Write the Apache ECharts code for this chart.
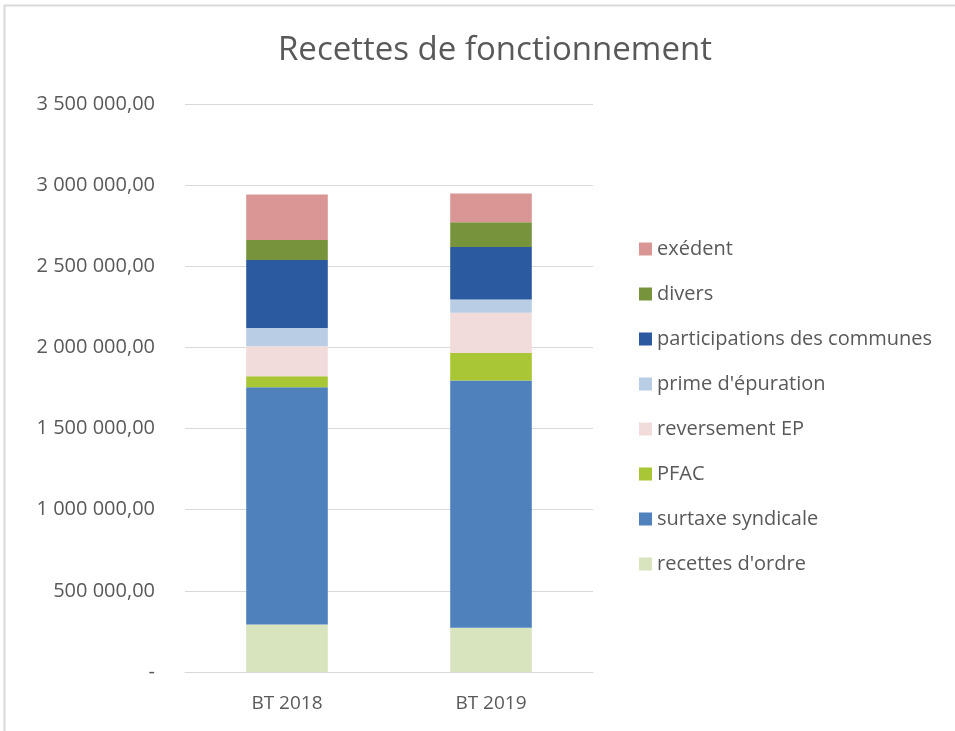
<!DOCTYPE html>
<html>
<head>
<meta charset="utf-8">
<script src="https://cdn.jsdelivr.net/npm/echarts@6/dist/echarts.min.js"></script>
<style>
html, body { margin: 0; padding: 0; background: #fff; }
#main { width: 955px; height: 731px; }
</style>
</head>
<body>
<div id="main"></div>
<script>
// données
var categories = ['BT 2018', 'BT 2019'];
var seriesNames = ['recettes d\'ordre', 'surtaxe syndicale', 'PFAC', 'reversement EP',
    'prime d\'épuration', 'participations des communes', 'divers', 'exédent'];
var seriesColors = ['#D7E4BD', '#4F81BD', '#A9C634', '#F2DCDB',
    '#B9CDE5', '#2B5AA0', '#77933C', '#D99694'];
var recettesOrdre = [292000, 273000];
var surtaxe = [1463000, 1523000];
var pfac = [68000, 169000];
var reversementEP = [185000, 249000];
var primeEpuration = [111000, 82000];
var participations = [420000, 323000];
var divers = [123000, 153000];
var excedent = [281000, 177000];
var seriesValues = [recettesOrdre, surtaxe, pfac, reversementEP, primeEpuration, participations, divers, excedent];

var font = 'Open Sans';

function fmt(v) {
    if (v === 0) return '-';
    var s = String(Math.round(v));
    s = s.replace(/\B(?=(\d{3})+(?!\d))/g, ' ');
    return s + ',00';
}

var myChart = echarts.init(document.getElementById('main'));

var series = [];
for (var i = 0; i < seriesNames.length; i++) {
    series.push({
        name: seriesNames[i],
        type: 'bar',
        stack: 'total',
        barWidth: '40%',
        itemStyle: { color: seriesColors[i] },
        data: seriesValues[i]
    });
}

var option = {
    backgroundColor: '#fff',
    animation: false,
    title: {
        text: 'Recettes de fonctionnement',
        left: 273,
        top: 29,
        textStyle: { color: '#595959', fontSize: 33, fontWeight: 'normal', fontFamily: font }
    },
    graphic: [{
        type: 'rect',
        shape: { x: 4.5, y: 5.5, width: 1000, height: 1000 },
        style: { fill: 'none', stroke: '#d9d9d9', lineWidth: 2 }
    }],
    legend: {
        orient: 'vertical',
        left: 634,
        top: 234,
        itemWidth: 13,
        itemHeight: 13,
        itemGap: 25,
        icon: 'rect',
        data: seriesNames.slice().reverse(),
        textStyle: { color: '#595959', fontSize: 20, fontFamily: font, lineHeight: 20 }
    },
    grid: {
        left: 185,
        right: 362,
        top: 104,
        bottom: 59
    },
    xAxis: {
        type: 'category',
        data: categories,
        axisLine: { lineStyle: { color: '#d9d9d9', width: 1 } },
        axisTick: { show: false },
        axisLabel: { color: '#595959', fontSize: 19, fontFamily: font, margin: 22 }
    },
    yAxis: {
        type: 'value',
        min: 0,
        max: 3500000,
        interval: 500000,
        axisLine: { show: false },
        axisTick: { show: false },
        splitLine: { lineStyle: { color: '#d9d9d9', width: 1 } },
        axisLabel: {
            color: '#595959', fontSize: 20, fontFamily: font, margin: 30,
            formatter: fmt
        }
    },
    series: series
};

myChart.setOption(option);
</script>
</body>
</html>
